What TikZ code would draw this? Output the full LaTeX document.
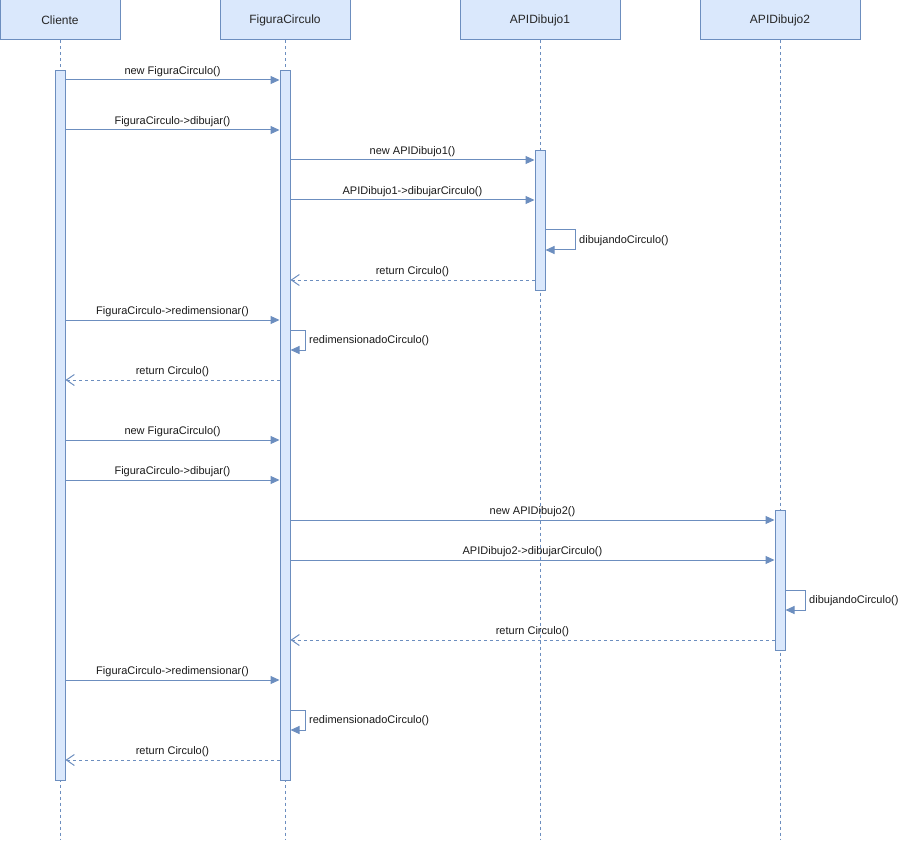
\documentclass[tikz,border=0pt]{standalone}
\usepackage{fontspec}
\setmainfont{Liberation Sans}
\usetikzlibrary{arrows.meta}
\definecolor{fillb}{HTML}{DAE8FC}
\definecolor{strokeb}{HTML}{6C8EBF}
\begin{document}
\begin{tikzpicture}[x=1pt,y=-1pt,
 hdr/.style={draw=strokeb,fill=fillb,line width=1pt,minimum height=40pt,inner sep=0pt,font=\fontsize{12}{14}\selectfont,text=black!85},
 actbar/.style={draw=strokeb,fill=fillb,line width=1pt,minimum width=10pt,inner sep=0pt,anchor=north},
 life/.style={draw=strokeb,line width=1pt,dash pattern=on 3pt off 3pt},
 msg/.style={draw=strokeb,line width=1pt,-{Triangle[length=9pt,width=8pt]}},
 ret/.style={draw=strokeb,line width=1pt,dash pattern=on 3pt off 3pt,-{Straight Barb[length=8pt,width=11pt]}},
 lbl/.style={font=\fontsize{11}{13}\selectfont,text=black!90,inner sep=0pt}]
\useasboundingbox (0,0) rectangle (899,842);
% headers
\node[hdr,minimum width=120pt] (hC) at (60,20) {Cliente};
\node[hdr,minimum width=130pt] (hF) at (285,20) {FiguraCirculo};
\node[hdr,minimum width=160pt] (hA1) at (540,20) {APIDibujo1};
\node[hdr,minimum width=160pt] (hA2) at (780,20) {APIDibujo2};
% lifeline ends
\coordinate (eC) at (60,840);
\coordinate (eF) at (285,840);
\coordinate (eA1) at (540,840);
\coordinate (eA2) at (780,840);
\draw[life] (hC.south) -- (eC);
\draw[life] (hF.south) -- (eF);
\draw[life] (hA1.south) -- (eA1);
\draw[life] (hA2.south) -- (eA2);
% activation bars
\node[actbar,minimum height=710pt] (bC) at (60,70) {};
\node[actbar,minimum height=710pt] (bF) at (285,70) {};
\node[actbar,minimum height=140pt] (bA1) at (540,150) {};
\node[actbar,minimum height=140pt] (bA2) at (780,510) {};
% messages
\draw[msg] (bC.east |- 0,80) -- (bF.west |- 0,80) node[lbl,midway,above=2.5pt] {new FiguraCirculo()};
\draw[msg] (bC.east |- 0,130) -- (bF.west |- 0,130) node[lbl,midway,above=2.5pt] {FiguraCirculo->dibujar()};
\draw[msg] (bF.east |- 0,160) -- (bA1.west |- 0,160) node[lbl,midway,above=2.5pt] {new APIDibujo1()};
\draw[msg] (bF.east |- 0,200) -- (bA1.west |- 0,200) node[lbl,midway,above=2.5pt] {APIDibujo1->dibujarCirculo()};
\draw[msg] (bA1.east |- 0,230) -- ++(30,0) |- (bA1.east |- 0,250);
\node[lbl,anchor=west] (s1) at (579,241) {dibujandoCirculo()};
\draw[ret] (bA1.west |- 0,280) -- (bF.east |- 0,280) node[lbl,midway,above=2.5pt] {return Circulo()};
\draw[msg] (bC.east |- 0,320) -- (bF.west |- 0,320) node[lbl,midway,above=2.5pt] {FiguraCirculo->redimensionar()};
\draw[msg] (bF.east |- 0,330) -- ++(15,0) |- (bF.east |- 0,350);
\node[lbl,anchor=west] (s2) at (309,341) {redimensionadoCirculo()};
\draw[ret] (bF.west |- 0,380) -- (bC.east |- 0,380) node[lbl,midway,above=2.5pt] {return Circulo()};
\draw[msg] (bC.east |- 0,440) -- (bF.west |- 0,440) node[lbl,midway,above=2.5pt] {new FiguraCirculo()};
\draw[msg] (bC.east |- 0,480) -- (bF.west |- 0,480) node[lbl,midway,above=2.5pt] {FiguraCirculo->dibujar()};
\draw[msg] (bF.east |- 0,520) -- (bA2.west |- 0,520) node[lbl,midway,above=2.5pt] {new APIDibujo2()};
\draw[msg] (bF.east |- 0,560) -- (bA2.west |- 0,560) node[lbl,midway,above=2.5pt] {APIDibujo2->dibujarCirculo()};
\draw[msg] (bA2.east |- 0,590) -- ++(20,0) |- (bA2.east |- 0,610);
\node[lbl,anchor=west] (s3) at (809,601) {dibujandoCirculo()};
\draw[ret] (bA2.west |- 0,640) -- (bF.east |- 0,640) node[lbl,midway,above=2.5pt] {return Circulo()};
\draw[msg] (bC.east |- 0,680) -- (bF.west |- 0,680) node[lbl,midway,above=2.5pt] {FiguraCirculo->redimensionar()};
\draw[msg] (bF.east |- 0,710) -- ++(15,0) |- (bF.east |- 0,730);
\node[lbl,anchor=west] (s4) at (309,721) {redimensionadoCirculo()};
\draw[ret] (bF.west |- 0,760) -- (bC.east |- 0,760) node[lbl,midway,above=2.5pt] {return Circulo()};
\end{tikzpicture}
\end{document}
